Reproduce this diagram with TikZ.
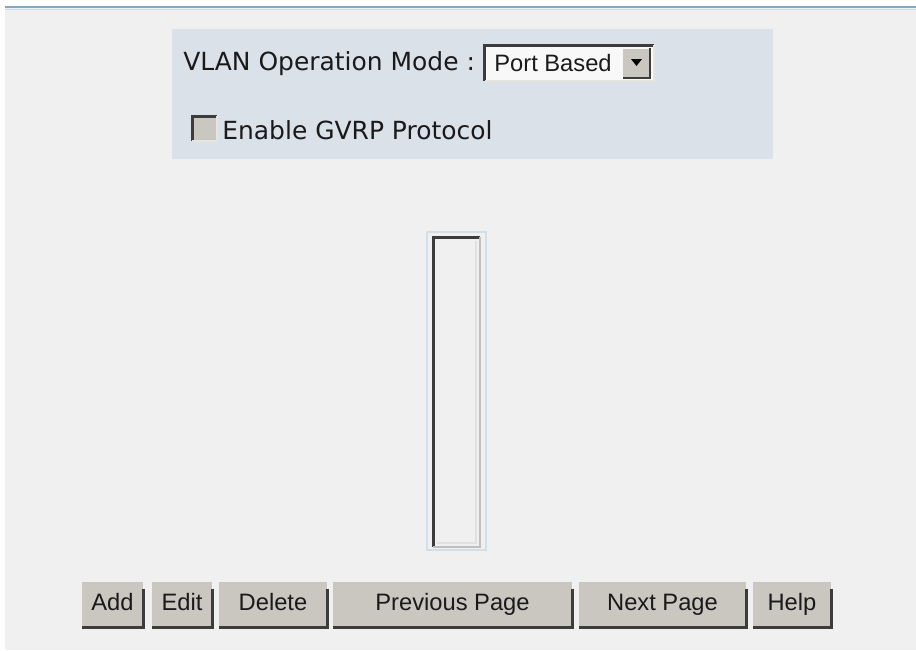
\documentclass[tikz,border=0pt]{standalone}
\usepackage{fontspec}
\newfontfamily\uifont{DejaVu Sans}
\newfontfamily\btnfont{Liberation Sans}
\definecolor{pagebg}{HTML}{F0F0F0}
\definecolor{panel}{HTML}{DAE1E9}
\definecolor{topline}{HTML}{7EAACB}
\definecolor{toplite}{HTML}{C9DCE8}
\definecolor{btnface}{HTML}{CAC6C0}
\definecolor{btndark}{HTML}{3C3C3C}
\definecolor{btnlite}{HTML}{E6E4E0}
\definecolor{lstblue}{HTML}{D2DEE8}
\definecolor{txt}{HTML}{1A1A1A}
\usepackage{tikz}

\begin{document}
\begin{tikzpicture}[x=0.02cm, y=-0.02cm,
  btn/.style={rectangle, fill=btnface, minimum height=0.9cm, inner sep=0pt,
              text height=9.8pt, text depth=2.6pt,
              font=\btnfont\fontsize{13.5}{15}\selectfont, text=txt},
  dk/.style={draw=btndark, line width=0.05cm},
  lt/.style={draw=btnlite, line width=0.04cm},
  lbl/.style={anchor=west, inner sep=0pt, font=\uifont\fontsize{14.2}{16}\selectfont, text=txt},
]
\useasboundingbox (0,0) rectangle (916,650);
\fill[white] (0,0) rectangle (916,650);
\fill[pagebg] (5,8) rectangle (916,650);
\draw[topline, line width=0.04cm] (5,7) -- (916,7);
\draw[toplite, line width=0.02cm] (5,9) -- (916,9);

% settings panel
\node[rectangle, fill=panel, minimum width=12.02cm, minimum height=2.6cm, inner sep=0pt] (panel) at (472.5,94) {};
\node[lbl] (mode) at (183,64) {VLAN Operation Mode :};
\node[rectangle, fill=white!50!pagebg, minimum width=3.38cm, minimum height=0.7cm, inner sep=0pt] (sel) at (569.5,63) {};
\draw[btndark, line width=0.06cm] (sel.south west) -- (sel.north west) -- (sel.north east);
\draw[btnlite, line width=0.04cm] (sel.north east) -- (sel.south east) -- (sel.south west);
\node[anchor=west, inner sep=0pt, font=\btnfont\fontsize{13.5}{15}\selectfont, text=txt] (selval) at (494,63) {Port Based};
\node[rectangle, fill=btnface, minimum width=0.54cm, minimum height=0.58cm, inner sep=0pt] (arrbtn) at (636.5,63) {};
\draw[dk, line width=0.04cm] (arrbtn.north east) -- (arrbtn.south east) -- (arrbtn.south west);
\fill[black] (631,59) -- (642,59) -- (636.5,66) -- cycle;

\node[rectangle, fill=btnface, minimum width=0.48cm, minimum height=0.48cm, inner sep=0pt] (gvrpbox) at (204.5,128.5) {};
\draw[btndark, line width=0.06cm] (gvrpbox.south west) -- (gvrpbox.north west) -- (gvrpbox.north east);
\draw[btnlite, line width=0.03cm] (gvrpbox.north east) -- (gvrpbox.south east) -- (gvrpbox.south west);
\node[lbl] (gvrp) at (222,130) {Enable GVRP Protocol};

% vlan list
\node[rectangle, draw=lstblue, line width=0.05cm, fill=pagebg, minimum width=1.18cm, minimum height=6.36cm, inner sep=0pt] (vlanlist) at (456.5,391) {};
\node[rectangle, minimum width=0.92cm, minimum height=6.18cm, inner sep=0pt] (listin) at (456.5,392) {};
\draw[btndark, line width=0.06cm] (listin.south west) -- (listin.north west) -- (listin.north east);
\draw[black!25, line width=0.04cm] (listin.north east) -- (listin.south east) -- (listin.south west);
\draw[black!12, line width=0.03cm] ([shift={(-4,4)}]listin.north east) -- ([shift={(-4,-4)}]listin.south east) -- ([shift={(4,-4)}]listin.south west);

% buttons
\node[btn, minimum width=1.22cm] (add) at (112.5,604.5) {Add};
\node[btn, minimum width=1.20cm] (edit) at (182,604.5) {Edit};
\node[btn, minimum width=2.16cm] (del) at (273,604.5) {Delete};
\node[btn, minimum width=4.78cm] (prev) at (452.5,604.5) {Previous Page};
\node[btn, minimum width=3.34cm] (next) at (662.5,604.5) {Next Page};
\node[btn, minimum width=1.56cm] (help) at (792,604.5) {Help};
\foreach \b in {add,edit,del,prev,next,help} {
  \draw[dk] ([yshift=-4]\b.north east) -- (\b.south east) -- (\b.south west);
}
\end{tikzpicture}
\end{document}
